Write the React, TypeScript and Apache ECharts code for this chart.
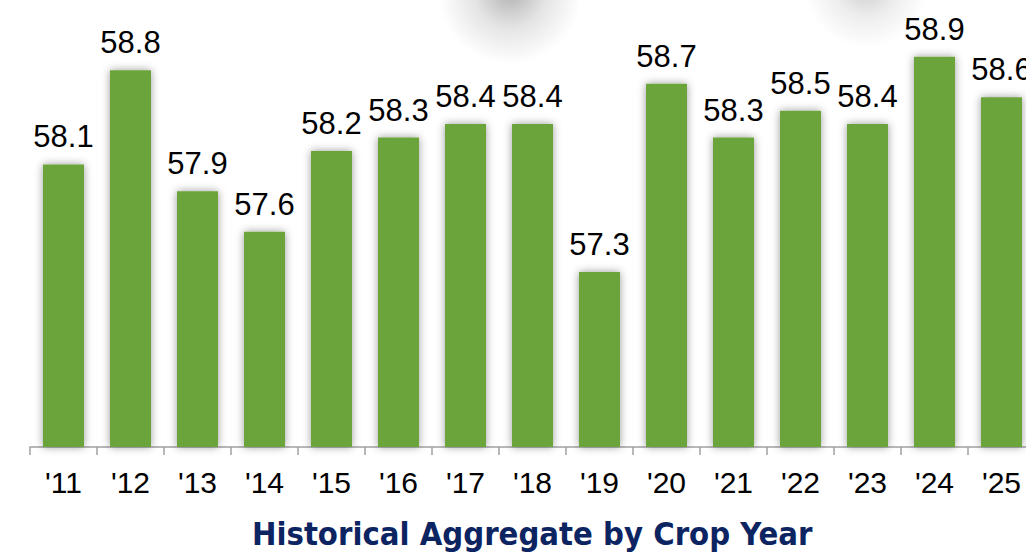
import React, { useEffect, useRef } from "react";
import * as echarts from "echarts";

const categories = ["'11", "'12", "'13", "'14", "'15", "'16", "'17", "'18", "'19", "'20", "'21", "'22", "'23", "'24", "'25"];
const values = [58.1, 58.8, 57.9, 57.6, 58.2, 58.3, 58.4, 58.4, 57.3, 58.7, 58.3, 58.5, 58.4, 58.9, 58.6];
const title = "Historical Aggregate by Crop Year";

export default function App() {
  const ref = useRef<HTMLDivElement>(null);
  useEffect(() => {
    if (!ref.current) return;
    const chart = echarts.init(ref.current, undefined, { renderer: "svg" });
    const blob = (cx: number, cy: number, r: number, a: number) => ({
      type: "circle",
      silent: true,
      shape: { cx, cy, r },
      style: {
        fill: new echarts.graphic.RadialGradient(0.5, 0.5, 0.5, [
          { offset: 0, color: `rgba(0,0,0,${a})` },
          { offset: 0.5, color: `rgba(0,0,0,${a * 0.35})` },
          { offset: 1, color: "rgba(0,0,0,0)" },
        ]),
      },
    });
    chart.setOption({
      animation: false,
      backgroundColor: "#ffffff",
      grid: { left: 30, width: 1005, top: 3, bottom: 107, containLabel: false },
      xAxis: {
        type: "category",
        data: categories,
        axisLine: { show: true, lineStyle: { color: "#a0a0a0", width: 1.5 } },
        axisTick: { show: true, length: 8, alignWithLabel: false, lineStyle: { color: "#a0a0a0", width: 1.5 } },
        axisLabel: {
          color: "#000",
          fontSize: 30,
          fontFamily: "Liberation Sans, Arial, sans-serif",
          margin: 20,
          interval: 0,
        },
      },
      yAxis: {
        type: "value",
        min: 56,
        max: 59.3,
        show: false,
        splitLine: { show: false },
      },
      series: [
        {
          type: "bar",
          data: values,
          barWidth: 41,
          itemStyle: {
            color: "#6ba43a",
            shadowBlur: 8,
            shadowColor: "rgba(0,0,0,0.4)",
            shadowOffsetX: 0,
            shadowOffsetY: 0,
          },
          label: {
            show: true,
            position: "top",
            distance: 12,
            color: "#000",
            fontSize: 31,
            fontFamily: "Liberation Sans, Arial, sans-serif",
            formatter: (p: any) => p.value.toFixed(1),
          },
        },
      ],
      graphic: [
        blob(510, -8, 72, 0.3),
        blob(866, -14, 62, 0.2),
        {
          type: "text",
          left: 252,
          top: 517,
          style: {
            text: title,
            fill: "#0c2461",
            fontSize: 32.5,
            fontWeight: "bold",
            fontFamily: "DejaVu Sans Condensed, sans-serif",
          },
        },
      ],
    });
    return () => chart.dispose();
  }, []);
  return (
    <div style={{ position: "fixed", left: 0, top: 0, width: 1026, height: 554, overflow: "hidden", background: "#fff" }}>
      <div ref={ref} style={{ position: "absolute", left: 0, top: 0, width: 1060, height: 554 }} />
    </div>
  );
}
